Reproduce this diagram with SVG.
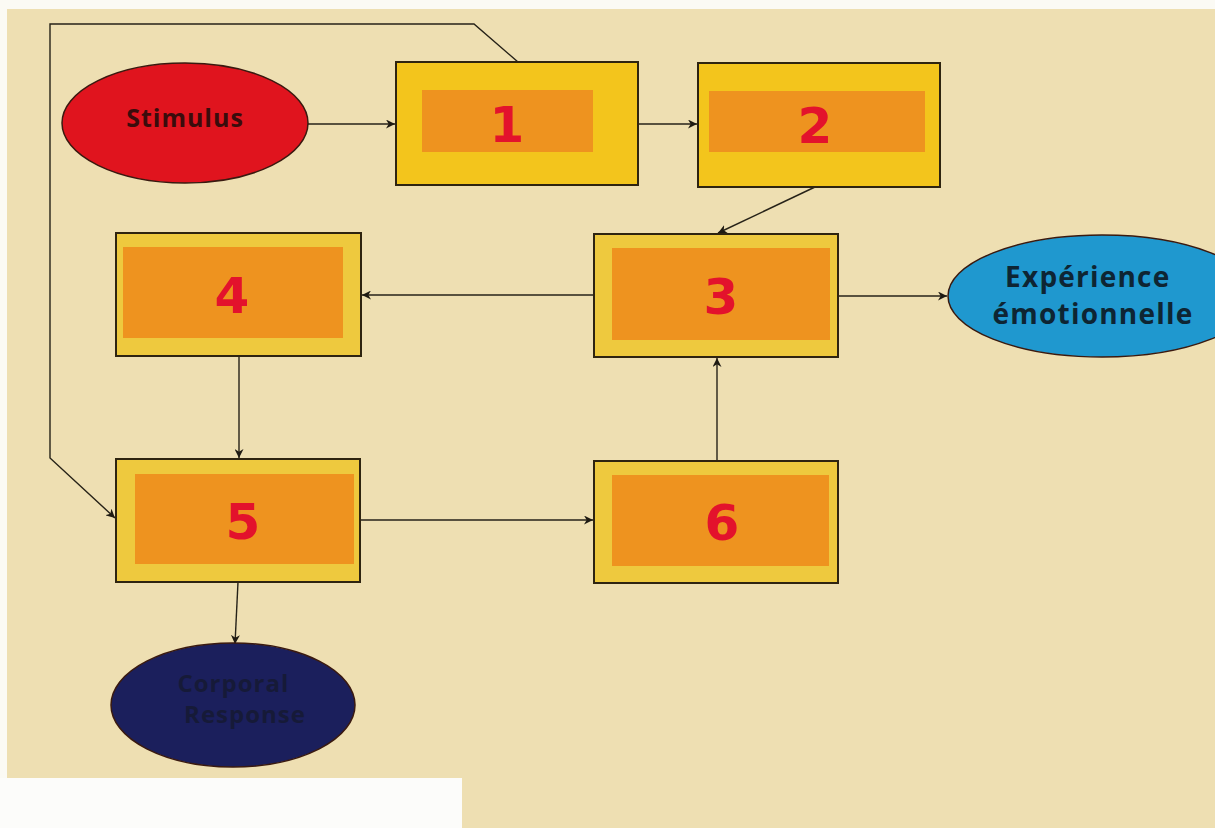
<svg xmlns="http://www.w3.org/2000/svg" width="1215" height="828" viewBox="0 0 1215 828">
  <style>
    .box-outer { stroke: #2e2410; stroke-width: 2; }
    .box-a { fill: #F3C51C; }
    .box-b { fill: #EEC93E; }
    .box-inner { fill: #EE931F; }
    .num { font-family: "DejaVu Sans", sans-serif; font-weight: bold; font-size: 50px; fill: #E3122C; text-anchor: middle; }
    .lbl { font-family: "Open Sans", "DejaVu Sans", sans-serif; font-weight: bold; text-anchor: middle; letter-spacing: 1px; }
    .conn { fill: none; stroke: #262218; stroke-width: 1.4; marker-end: url(#arrow); }
    .shape-edge { stroke: #3a1a10; stroke-width: 1.5; }
  </style>
  <defs>
    <marker id="arrow" viewBox="0 0 10 10" refX="10" refY="5" markerWidth="9" markerHeight="9" markerUnits="userSpaceOnUse" orient="auto">
      <path d="M0,0 L10,5 L0,10 L3,5 Z" fill="#1e1a12"/>
    </marker>
  </defs>

  <!-- page background -->
  <rect x="0" y="0" width="1215" height="828" fill="#FBFAF4"/>
  <rect x="7" y="9" width="1208" height="819" fill="#EEDFB2"/>
  <rect x="0" y="778" width="462" height="50" fill="#FCFCFA"/>

  <!-- connectors -->
  <g id="connectors">
    <path class="conn" d="M308,124 L395,124"/>
    <path class="conn" d="M638,124 L697,124"/>
    <path class="conn" d="M815,187 L718,233"/>
    <path class="conn" d="M594,295 L362,295"/>
    <path class="conn" d="M838,296 L947,296"/>
    <path class="conn" d="M239,356 L239,458"/>
    <path class="conn" d="M360,520 L593,520"/>
    <path class="conn" d="M717,461 L717,358"/>
    <path class="conn" d="M238,582 L235,644"/>
    <path class="conn" d="M518,62 L474,24 L50,24 L50,458 L115,518"/>
  </g>

  <!-- stimulus -->
  <g id="stimulus">
    <ellipse class="shape-edge" cx="185" cy="123" rx="123" ry="60" fill="#E0141E"/>
    <text class="lbl" x="185" y="127" font-size="25" fill="#3A0C0C">Stimulus</text>
  </g>

  <!-- process boxes -->
  <g id="box1">
    <rect class="box-outer box-a" x="396" y="62" width="242" height="123"/>
    <rect class="box-inner" x="422" y="90" width="171" height="62"/>
    <text class="num" x="507" y="142">1</text>
  </g>
  <g id="box2">
    <rect class="box-outer box-a" x="698" y="63" width="242" height="124"/>
    <rect class="box-inner" x="709" y="91" width="216" height="61"/>
    <text class="num" x="815" y="143">2</text>
  </g>
  <g id="box3">
    <rect class="box-outer box-b" x="594" y="234" width="244" height="123"/>
    <rect class="box-inner" x="612" y="248" width="218" height="92"/>
    <text class="num" x="721" y="314">3</text>
  </g>
  <g id="box4">
    <rect class="box-outer box-b" x="116" y="233" width="245" height="123"/>
    <rect class="box-inner" x="123" y="247" width="220" height="91"/>
    <text class="num" x="232" y="313">4</text>
  </g>
  <g id="box5">
    <rect class="box-outer box-b" x="116" y="459" width="244" height="123"/>
    <rect class="box-inner" x="135" y="474" width="219" height="90"/>
    <text class="num" x="243" y="539">5</text>
  </g>
  <g id="box6">
    <rect class="box-outer box-b" x="594" y="461" width="244" height="122"/>
    <rect class="box-inner" x="612" y="475" width="217" height="91"/>
    <text class="num" x="722" y="540">6</text>
  </g>

  <!-- outputs -->
  <g id="experience">
    <ellipse class="shape-edge" cx="1102" cy="296" rx="154" ry="61" fill="#1F98CF" stroke="#1a3040"/>
    <text class="lbl" font-size="28" fill="#0E2533" style="letter-spacing:1.2px">
      <tspan x="1092" y="287">Expérience</tspan>
      <tspan x="1093" y="324">émotionnelle</tspan>
    </text>
  </g>
  <g id="corporal">
    <ellipse class="shape-edge" cx="233" cy="705" rx="122" ry="62" fill="#1B1F5C" stroke="#0e0e2a"/>
    <text class="lbl" font-size="24" fill="#161A38">
      <tspan x="237" y="692">Corporal</tspan>
      <tspan x="245" y="723">Response</tspan>
    </text>
  </g>
</svg>
